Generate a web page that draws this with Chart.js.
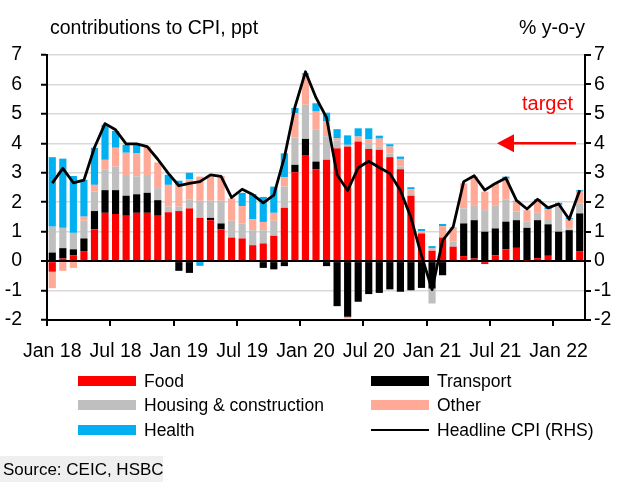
<!DOCTYPE html>
<html><head><meta charset="utf-8">
<script src="https://cdn.jsdelivr.net/npm/chart.js@4.4.0/dist/chart.umd.min.js"></script>
<style>
html,body{margin:0;padding:0;background:#fff;}
#wrap{position:relative;width:642px;height:489px;overflow:hidden;font-family:'Liberation Sans',Arial,sans-serif;color:#000;}
#c{position:absolute;left:0;top:0;}
.t{position:absolute;white-space:nowrap;line-height:1;}
.sw{position:absolute;}
</style></head><body>
<div id="wrap">
<canvas id="c" width="642" height="489"></canvas>
<div class="t" style="left:50px;top:18px;font-size:19.5px;">contributions to CPI, ppt</div>
<div class="t" style="right:57px;top:18px;font-size:19.5px;">% y-o-y</div>
<div class="t" style="left:522px;top:93px;font-size:20px;color:#ff0000;">target</div>
<div id="legend"></div>
<div class="t" style="left:0;top:456px;width:163px;height:26px;background:#efefef;"></div>
<div class="t" style="left:3px;top:461px;font-size:17px;">Source: CEIC, HSBC</div>
</div>
<script>
const categories = ['Jan 18','Feb 18','Mar 18','Apr 18','May 18','Jun 18','Jul 18','Aug 18','Sep 18','Oct 18','Nov 18','Dec 18',
 'Jan 19','Feb 19','Mar 19','Apr 19','May 19','Jun 19','Jul 19','Aug 19','Sep 19','Oct 19','Nov 19','Dec 19',
 'Jan 20','Feb 20','Mar 20','Apr 20','May 20','Jun 20','Jul 20','Aug 20','Sep 20','Oct 20','Nov 20','Dec 20',
 'Jan 21','Feb 21','Mar 21','Apr 21','May 21','Jun 21','Jul 21','Aug 21','Sep 21','Oct 21','Nov 21','Dec 21',
 'Jan 22','Feb 22','Mar 22'];
const food = [-0.36,0.09,0.20,0.34,1.08,1.64,1.60,1.54,1.64,1.64,1.54,1.66,1.70,1.79,1.47,1.39,1.08,0.80,0.77,0.54,0.60,0.86,1.81,3.02,3.58,3.12,3.44,3.83,3.89,4.06,3.81,3.78,3.53,3.12,2.22,0.94,0.35,0.80,0.49,0.17,0.09,-0.10,0.20,0.40,0.45,0.02,0.10,0.18,0.00,0.00,0.34];
const transport = [0.29,0.35,0.20,0.43,0.62,0.77,0.81,0.68,0.63,0.68,0.53,0,-0.33,-0.40,0,0.08,0.20,0,0,0,-0.23,-0.28,-0.17,0.25,0.57,0.26,-0.17,-1.53,-1.89,-1.38,-1.12,-1.08,-0.96,-1.04,-0.99,-0.91,-0.93,-0.48,0,1.11,1.30,1.00,0.91,0.94,0.94,1.11,1.29,1.07,1.00,1.05,1.28];
const housing = [0.88,0.69,0.56,0.60,0.66,0.71,0.80,0.67,0.61,0.57,0.41,0.19,0.15,0.31,0.58,0.58,0.77,0.57,0.51,0.51,0.45,0.51,0.72,0.93,1.16,1.08,0.80,0.26,0.06,0,0.17,0.10,0.13,0.09,0.06,0,-0.51,0,0.17,0.51,0.51,0.73,0.79,0.76,0.29,0.21,0.25,0.18,0.85,0.06,0.34];
const other = [-0.56,-0.33,-0.23,0.14,0.23,0.32,0.64,0.79,0.79,1.00,0.87,0.74,0.74,0.68,0.82,0.82,0.84,0.76,0.59,0.37,0.28,0.27,0.32,0.83,1.02,0.62,0.50,0.08,-0.06,0.17,0.16,0.28,0.23,0.26,0.16,0.08,0.08,0.39,0.45,0.85,0.97,0.63,0.74,0.71,0.34,0.39,0.38,0.33,0.06,0.31,0.40];
const health = [2.36,2.35,1.93,1.25,1.26,1.19,0.57,0.27,0.27,0,0,0.34,0.14,0.22,-0.16,0,0,0,0.45,0.86,0.85,0.89,0.81,0.17,0.05,0.28,0.30,0.31,0.32,0.28,0.37,0.10,0.08,0.08,0.07,0.07,0.08,0.07,0.03,0,0,0,0,0.06,0.03,0,0.08,0.07,0.07,0.05,0.05];
const headline = [2.65,3.15,2.66,2.75,3.86,4.67,4.46,3.98,3.98,3.89,3.46,2.98,2.56,2.64,2.70,2.93,2.88,2.16,2.44,2.26,1.98,2.24,3.52,5.23,6.43,5.55,4.87,2.93,2.40,3.17,3.39,3.18,2.98,2.40,1.48,0.19,-0.97,0.70,1.16,2.70,2.90,2.41,2.64,2.82,2.06,1.77,2.10,1.81,1.94,1.42,2.41];
const yMin = -2, yMax = 7, yStep = 1;
const targetLevel = 4;
const labelEvery = 6;

const FONT = "'Liberation Sans', Arial, sans-serif";
Chart.defaults.font.family = FONT;
Chart.defaults.color = '#000';

const barCommon = {type:'bar', barPercentage:0.68, categoryPercentage:1, order:1, borderWidth:0, yAxisID:'y'};
const datasets = [
  {...barCommon, label:'Food', data:food, backgroundColor:'#ff0000'},
  {...barCommon, label:'Transport', data:transport, backgroundColor:'#000000'},
  {...barCommon, label:'Housing & construction', data:housing, backgroundColor:'#bfbfbf'},
  {...barCommon, label:'Other', data:other, backgroundColor:'#ffa996'},
  {...barCommon, label:'Health', data:health, backgroundColor:'#00b0f0'},
  {type:'line', label:'Headline CPI (RHS)', data:headline, yAxisID:'y2', borderColor:'#000', backgroundColor:'#000',
   borderWidth:2.8, pointRadius:0, tension:0, order:0, borderJoinStyle:'round'}
];

const targetArrow = {
  id:'targetArrow',
  afterDatasetsDraw(chart){
    const {ctx, chartArea:a, scales} = chart;
    const y = scales.y.getPixelForValue(targetLevel);
    const w = a.right - a.left;
    const tip = a.left + w*0.8364, base = a.left + w*0.8680, end = a.left + w*0.9833;
    ctx.save();
    ctx.strokeStyle = '#ff0000'; ctx.fillStyle = '#ff0000'; ctx.lineWidth = 2.5;
    ctx.beginPath(); ctx.moveTo(base-2, y); ctx.lineTo(end, y); ctx.stroke();
    ctx.beginPath(); ctx.moveTo(tip, y); ctx.lineTo(base, y-9); ctx.lineTo(base, y+9); ctx.closePath(); ctx.fill();
    ctx.restore();
  }
};

const chart = new Chart(document.getElementById('c'), {
  data:{labels:categories, datasets},
  options:{
    responsive:false, animation:false,
    layout:{padding:{top:55, bottom:119, left:0, right:0}},
    plugins:{legend:{display:false}, tooltip:{enabled:false}},
    scales:{
      x:{stacked:true, offset:true,
        grid:{offset:true, drawOnChartArea:false, drawTicks:true, tickLength:6, lineWidth:2,
          tickColor:(c)=> (c.index % labelEvery === 0 ? '#000' : 'rgba(0,0,0,0)')},
        border:{display:true, color:'#000', width:2},
        ticks:{autoSkip:false, maxRotation:0, minRotation:0, padding:14, font:{size:19.5},
          callback:function(v,i){ return i % labelEvery === 0 ? this.getLabelForValue(v) : ''; }},
        afterFit:(s)=>{ s.height = 50; }
      },
      y:{position:'left', stacked:true, min:yMin, max:yMax,
        ticks:{stepSize:yStep, padding:19, font:{size:19.5}},
        grid:{color:(c)=> (c.tick && c.tick.value === 0 ? '#000' : '#d9d9d9'),
              lineWidth:(c)=> (c.tick && c.tick.value === 0 ? 2 : 1.5),
              tickColor:'#000', tickLength:6, tickWidth:2},
        border:{display:true, color:'#000', width:2},
        afterFit:(s)=>{ s.width = 47; }
      },
      y2:{position:'right', min:yMin, max:yMax,
        ticks:{stepSize:yStep, padding:3, font:{size:19.5}},
        grid:{drawOnChartArea:false, tickColor:'#000', tickLength:6, lineWidth:2},
        border:{display:true, color:'#000', width:2},
        afterFit:(s)=>{ s.width = 57; }
      }
    }
  },
  plugins:[targetArrow]
});

// HTML legend built from the chart datasets
const legendLayout = [
  {ds:0, col:0, row:0},{ds:1, col:1, row:0},
  {ds:2, col:0, row:1},{ds:3, col:1, row:1},
  {ds:4, col:0, row:2},{ds:5, col:1, row:2}
];
const colX = [78, 371], rowY = [381, 405, 430];
const lg = document.getElementById('legend');
legendLayout.forEach(it=>{
  const d = chart.data.datasets[it.ds];
  const sw = document.createElement('div');
  sw.className = 'sw';
  const isLine = d.type === 'line';
  const h = isLine ? 2.5 : 10;
  sw.style.cssText = `left:${colX[it.col]}px;top:${rowY[it.row]-h/2}px;width:58px;height:${h}px;background:${isLine?d.borderColor:d.backgroundColor};`;
  lg.appendChild(sw);
  const tx = document.createElement('div');
  tx.className = 't';
  tx.style.cssText = `left:${colX[it.col]+66}px;top:${rowY[it.row]-8.5}px;font-size:17.5px;`;
  tx.textContent = d.label;
  lg.appendChild(tx);
});
</script>
</body></html>
